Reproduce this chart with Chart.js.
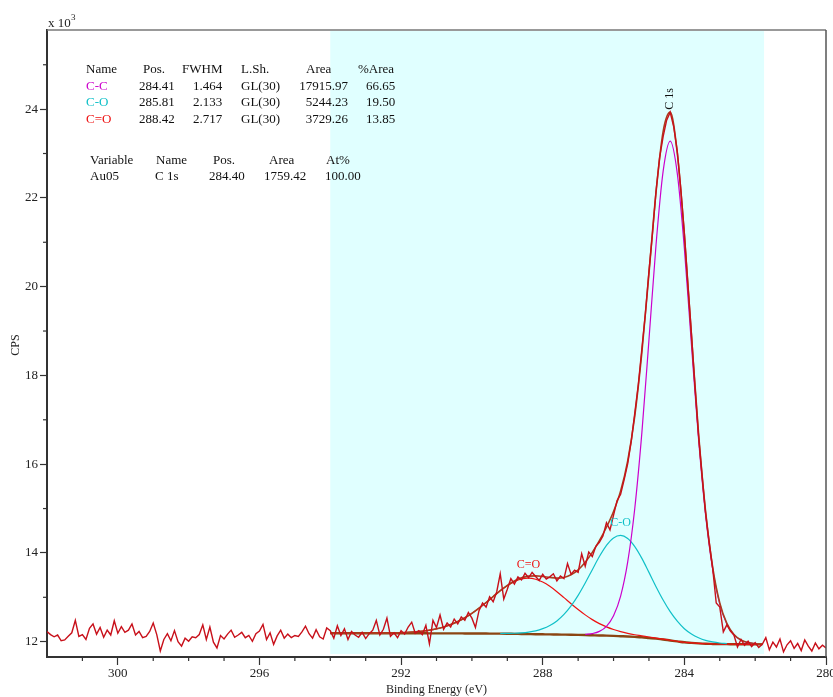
<!DOCTYPE html>
<html>
<head>
<meta charset="utf-8">
<script src="https://cdn.jsdelivr.net/npm/chart.js@4.4.1/dist/chart.umd.min.js"></script>
<style>
body { margin: 0; background: #fff; }
</style>
</head>
<body>
<canvas id="xpsChart" width="833" height="697"></canvas>
<script>
// C 1s spectrum, raw counts sampled every 0.1 eV
var rawStep = 0.1;
var rawLeftStart = 302.0;
var rawLeft = [
  12230,12160,12110,12150,12020,12040,12120,12200,12480,12120,
  12160,12050,12300,12400,12170,12320,12100,12260,12150,12470,
  12190,12340,12210,12260,12400,12150,12230,12090,12120,12230,
  12420,12160,11790,12050,12180,12020,12250,12000,11900,12080,
  12010,12110,12090,12160,12380,12050,12330,11990,11860,12140,
  12060,12170,12260,12100,12150,12210,12090,12140,12010,12180,
  12240,12390,12050,12200,11940,12130,12260,12080,12170,12090,
  12140,12120,12220,12350,12180,12080,12270,12110,12060,12310
];
var rawRegionStart = 294.0;
var rawRegion = [
  12250,12080,12360,12140,12290,12050,12230,12150,12100,12210,
  12070,12180,12260,12480,12150,12280,12530,12120,12200,12090,
  12250,12170,12330,12440,12190,12250,12160,12370,11950,12480,
  12320,12600,12280,12420,12330,12510,12400,12560,12480,12660,
  12530,12320,12700,12870,12780,13010,12900,13120,13530,12960,
  13180,13420,13300,13460,13390,13540,13440,13560,13470,13380,
  13520,13410,13460,13530,13370,13480,13420,13760,13520,13610,
  13560,13980,13700,14020,13920,14150,14240,14380,14680,14520,
  14850,15180,15320,15650,16010,16520,17150,17800,18600,19400,
  20350,21200,22150,22900,23380,23750,23930,23600,23050,22200,
  21200,20050,18950,17750,16650,15750,14900,14250,13650,12870,
  12780,12220,12380,12240,12150,11880,12050,11920,12010,11890,
  11980,11870,11940
];
var rawRightStart = 281.7;
var rawRight = [
  12090,11820,11990,11880,12060,11770,11930,12020,11850,11960,
  11800,12040,11900,11790,11970,11840,11920,11860
];

// fit curves, every 0.2 eV inside the region
var fitStep = 0.2;
var fitStart = 294.0;
var envelope = [
  12190,12190,12190,12191,12190,12190,12191,12192,12194,12197,
  12202,12210,12221,12237,12259,12290,12331,12385,12454,12538,
  12640,12756,12883,13017,13150,13270,13367,13439,13477,13484,
  13470,13448,13433,13448,13507,13620,13790,14013,14277,14579,
  14935,15399,16076,17089,18521,20299,22130,23494,23932,23011,
  21172,18892,16701,14929,13675,12874,12411,12161,12037,11981,
  11955,11945
];
var background = [
  12190,12190,12190,12190,12189,12189,12189,12189,12189,12189,
  12189,12189,12189,12189,12188,12188,12188,12187,12187,12186,
  12185,12184,12183,12182,12181,12179,12176,12174,12171,12168,
  12166,12164,12161,12159,12157,12154,12150,12145,12140,12136,
  12131,12124,12117,12109,12100,12084,12068,12050,12028,12007,
  11986,11974,11963,11954,11949,11945,11944,11942,11941,11941,
  11940,11940
];
var coDoubleStart = 294.0;
var coDouble = [
  12190,12190,12190,12191,12190,12190,12191,12192,12194,12197,
  12202,12210,12221,12237,12259,12290,12331,12385,12454,12538,
  12639,12755,12882,13015,13146,13262,13353,13413,13431,13407,
  13343,13247,13126,12992,12856,12725,12604,12497,12407,12334,
  12274,12226,12188,12157,12132,12105,12081,12058,12033,12010,
  11988,11975,11963,11954,11949,11945,11944,11942,11941,11941,
  11940,11940
];
var coSingleStart = 289.2;
var coSingle = [
  12185,12187,12190,12200,12217,12245,12293,12365,12468,12614,
  12806,13044,13322,13623,13918,14170,14339,14394,14325,14143,
  13878,13562,13240,12940,12677,12462,12293,12175,12090,12031,
  11995,11971,11958
];
var ccStart = 286.8;
var ccPeak = [
  12164,12183,12232,12347,12584,13027,13797,15007,16711,18800,
  20945,22596,23278,22553,20863,18690,16574,14852,13629,12848,
  12397,12153,12033,11979,11954
];

// quantification tables
var compNames = ["C-C", "C-O", "C=O"];
var compColors = ["#cc00cc", "#10c0c8", "#ee1111"];
var compPos = ["284.41", "285.81", "288.42"];
var compFwhm = ["1.464", "2.133", "2.717"];
var compShape = ["GL(30)", "GL(30)", "GL(30)"];
var compArea = ["17915.97", "5244.23", "3729.26"];
var compPct = ["66.65", "19.50", "13.85"];
var quantRow = ["Au05", "C 1s", "284.40", "1759.42", "100.00"];

// region and axes
var regionFrom = 294.0;
var regionTo = 281.75;
var regionFloor = 11722;
var xMin = 280, xMax = 302;
var yMin = 11655, yMax = 25783;
var xTicks = [300, 296, 292, 288, 284, 280];
var yTicks = [12000, 14000, 16000, 18000, 20000, 22000, 24000];

function seriesPoints(start, step, values) {
  return values.map(function(v, i) {
    return { x: Math.round((start - i * step) * 100) / 100, y: v };
  });
}

var rawPoints = seriesPoints(rawLeftStart, rawStep, rawLeft)
  .concat(seriesPoints(rawRegionStart, rawStep, rawRegion))
  .concat(seriesPoints(rawRightStart, rawStep, rawRight));

var serif = '"Liberation Serif", "Times New Roman", serif';

var xpsDecor = {
  id: 'xpsDecor',
  beforeDatasetsDraw: function(chart) {
    var ctx = chart.ctx, xs = chart.scales.x, ys = chart.scales.y, area = chart.chartArea;
    var l = xs.getPixelForValue(regionFrom);
    var r = xs.getPixelForValue(regionTo);
    ctx.save();
    ctx.fillStyle = '#e0ffff';
    ctx.fillRect(l, area.top + 1, r - l, ys.getPixelForValue(regionFloor) - area.top - 1);
    ctx.restore();
  },
  afterDraw: function(chart) {
    var ctx = chart.ctx, xs = chart.scales.x, ys = chart.scales.y, area = chart.chartArea;
    ctx.save();
    // top and right frame
    ctx.strokeStyle = '#777';
    ctx.lineWidth = 1.5;
    ctx.beginPath();
    ctx.moveTo(area.left, area.top);
    ctx.lineTo(area.right, area.top);
    ctx.stroke();
    ctx.strokeStyle = '#555';
    ctx.beginPath();
    ctx.moveTo(area.right, area.top);
    ctx.lineTo(area.right, area.bottom);
    ctx.stroke();

    // minor ticks
    ctx.strokeStyle = '#333';
    ctx.lineWidth = 1.2;
    var v, p;
    for (v = xMin + 1; v < xMax; v++) {
      if (v % 4 === 0) continue;
      p = xs.getPixelForValue(v);
      ctx.beginPath();
      ctx.moveTo(p, area.bottom);
      ctx.lineTo(p, area.bottom + 4);
      ctx.stroke();
    }
    for (v = 13000; v < yMax; v += 2000) {
      p = ys.getPixelForValue(v);
      ctx.beginPath();
      ctx.moveTo(area.left, p);
      ctx.lineTo(area.left - 4, p);
      ctx.stroke();
    }

    // axis titles
    ctx.fillStyle = '#222';
    ctx.font = '12px ' + serif;
    ctx.textAlign = 'center';
    ctx.textBaseline = 'middle';
    ctx.fillText('Binding Energy (eV)', (area.left + area.right) / 2, 690);
    ctx.save();
    ctx.translate(16, 345);
    ctx.rotate(-Math.PI / 2);
    ctx.fillText('CPS', 0, 0);
    ctx.restore();

    ctx.textAlign = 'left';
    ctx.textBaseline = 'alphabetic';
    ctx.font = '13px ' + serif;
    ctx.fillText('x 10', 48, 27);
    ctx.font = '9px ' + serif;
    ctx.fillText('3', 71, 20);

    // component table
    ctx.font = '13px ' + serif;
    ctx.textBaseline = 'middle';
    ctx.fillStyle = '#111';
    var head = [['Name', 86], ['Pos.', 143], ['FWHM', 182], ['L.Sh.', 241], ['Area', 306], ['%Area', 358]];
    head.forEach(function(h) { ctx.fillText(h[0], h[1], 69.5); });
    var rowY = [86.5, 103, 119.5];
    for (var i = 0; i < compNames.length; i++) {
      ctx.textAlign = 'left';
      ctx.fillStyle = compColors[i];
      ctx.fillText(compNames[i], 86, rowY[i]);
      ctx.fillStyle = '#111';
      ctx.fillText(compPos[i], 139, rowY[i]);
      ctx.fillText(compFwhm[i], 193, rowY[i]);
      ctx.fillText(compShape[i], 241, rowY[i]);
      ctx.fillText(compPct[i], 366, rowY[i]);
      ctx.textAlign = 'right';
      ctx.fillText(compArea[i], 348, rowY[i]);
    }
    ctx.textAlign = 'left';
    var head2 = [['Variable', 90], ['Name', 156], ['Pos.', 213], ['Area', 269], ['At%', 326]];
    head2.forEach(function(h) { ctx.fillText(h[0], h[1], 161); });
    var col2 = [90, 155, 209, 264, 325];
    quantRow.forEach(function(t, k) { ctx.fillText(t, col2[k], 177); });

    // peak labels
    ctx.font = '12px ' + serif;
    ctx.textAlign = 'center';
    ctx.fillStyle = compColors[2];
    ctx.fillText('C=O', xs.getPixelForValue(288.4), ys.getPixelForValue(13730));
    ctx.fillStyle = compColors[1];
    ctx.fillText('C-O', xs.getPixelForValue(285.8), ys.getPixelForValue(14680));
    ctx.fillStyle = '#111';
    ctx.save();
    ctx.translate(xs.getPixelForValue(284.41), ys.getPixelForValue(24230));
    ctx.rotate(-Math.PI / 2);
    ctx.fillText('C 1s', 0, 0);
    ctx.restore();
    ctx.restore();
  }
};

var lineBase = { pointRadius: 0, fill: false, parsing: false };

var xpsChart = new Chart(document.getElementById('xpsChart'), {
  type: 'line',
  data: {
    datasets: [
      Object.assign({ label: 'raw', data: rawPoints, borderColor: '#c8101a', borderWidth: 1.4, tension: 0 }, lineBase),
      Object.assign({ label: 'envelope', data: seriesPoints(fitStart, fitStep, envelope), borderColor: '#a8401e', borderWidth: 1.6, cubicInterpolationMode: 'monotone' }, lineBase),
      Object.assign({ label: 'C-C', data: seriesPoints(ccStart, fitStep, ccPeak), borderColor: compColors[0], borderWidth: 1.2, cubicInterpolationMode: 'monotone' }, lineBase),
      Object.assign({ label: 'C-O', data: seriesPoints(coSingleStart, fitStep, coSingle), borderColor: compColors[1], borderWidth: 1.2, cubicInterpolationMode: 'monotone' }, lineBase),
      Object.assign({ label: 'C=O', data: seriesPoints(coDoubleStart, fitStep, coDouble), borderColor: compColors[2], borderWidth: 1.2, cubicInterpolationMode: 'monotone' }, lineBase),
      Object.assign({ label: 'background', data: seriesPoints(fitStart, fitStep, background), borderColor: '#8b4513', borderWidth: 2.4, cubicInterpolationMode: 'monotone' }, lineBase)
    ]
  },
  options: {
    responsive: false,
    animation: false,
    devicePixelRatio: 1,
    layout: { padding: { top: 30, right: 7, left: 0, bottom: 0 } },
    plugins: { legend: { display: false }, tooltip: { enabled: false } },
    scales: {
      x: {
        type: 'linear',
        reverse: true,
        min: xMin,
        max: xMax,
        afterBuildTicks: function(scale) { scale.ticks = xTicks.map(function(t) { return { value: t }; }); },
        afterFit: function(scale) { scale.height = 40; scale.paddingLeft = 0; scale.paddingRight = 0; },
        ticks: { padding: 1, color: '#222', font: { family: serif, size: 13 } },
        grid: { drawOnChartArea: false, drawTicks: true, tickLength: 8, tickColor: '#333', tickWidth: 1.2 },
        border: { display: true, color: '#333', width: 2 }
      },
      y: {
        type: 'linear',
        min: yMin,
        max: yMax,
        afterBuildTicks: function(scale) { scale.ticks = yTicks.map(function(t) { return { value: t }; }); },
        afterFit: function(scale) { scale.width = 47; scale.paddingTop = 0; scale.paddingBottom = 0; },
        ticks: {
          padding: 2,
          color: '#222',
          font: { family: serif, size: 13 },
          callback: function(v) { return v / 1000; }
        },
        grid: { drawOnChartArea: false, drawTicks: true, tickLength: 7, tickColor: '#333', tickWidth: 1.2 },
        border: { display: true, color: '#333', width: 2 }
      }
    }
  },
  plugins: [xpsDecor]
});
</script>
</body>
</html>
